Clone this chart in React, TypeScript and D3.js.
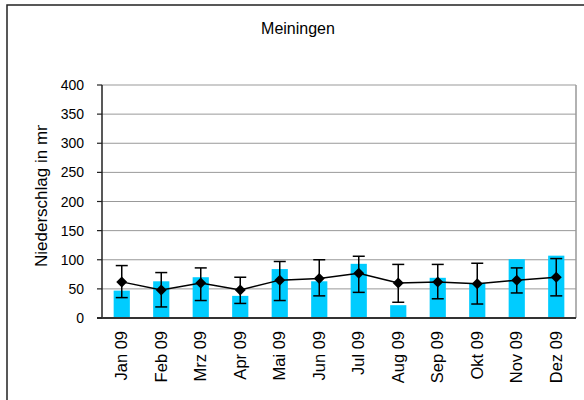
import React from "react";
import * as d3 from "d3";

const categories = ["Jan 09","Feb 09","Mrz 09","Apr 09","Mai 09","Jun 09","Jul 09","Aug 09","Sep 09","Okt 09","Nov 09","Dez 09"];
const barValues = [47, 63, 70, 38, 84, 63, 93, 22, 69, 60, 101, 107];
const meanValues = [62, 48, 60, 48, 65, 68, 77, 60, 62, 59, 65, 70];
const errLow = [35, 19, 30, 25, 30, 38, 44, 27, 33, 24, 43, 38];
const errHigh = [90, 78, 86, 70, 97, 100, 106, 92, 92, 94, 86, 102];
const yTicks = [0, 50, 100, 150, 200, 250, 300, 350, 400];
const title = "Meiningen";
const yTitle = "Niederschlag in mm";

export default function App() {
  const W = 584, H = 400;
  const left = 102, right = 576, top = 85, bottom = 318;
  const x = d3.scaleBand().domain(categories).range([left, right]).paddingInner(0).paddingOuter(0);
  const y = d3.scaleLinear().domain([0, 400]).range([bottom, top]);
  const bw = x.bandwidth() * 0.41;
  const cx = (c: string) => (x(c) as number) + x.bandwidth() / 2;
  const line = d3.line<number>().x((_, i) => cx(categories[i])).y(d => y(d));
  const font = "Liberation Sans, Arial, sans-serif";
  return (
    <svg width={W} height={H} style={{ position: "absolute", left: 0, top: 0, display: "block" }} fontFamily={font}>
      <defs>
        <clipPath id="ytclip"><rect x={0} y={125} width={100} height={260} /></clipPath>
      </defs>
      <rect x={0} y={0} width={W} height={H} fill="#fff" />
      <rect x={7} y={5} width={W + 20} height={H + 20} fill="none" stroke="#222" strokeWidth={1.5} />
      <text x={298} y={34} textAnchor="middle" fontSize={16} fill="#000">{title}</text>
      {yTicks.filter(t => t > 0).map(t => (
        <line key={t} x1={left} x2={right} y1={y(t)} y2={y(t)} stroke="#999" strokeWidth={1} />
      ))}
      <line x1={right} x2={right} y1={top} y2={bottom} stroke="#999" strokeWidth={1.5} />
      {categories.map((c, i) => (
        <rect key={c} x={cx(c) - bw / 2} width={bw} y={y(barValues[i])} height={bottom - y(barValues[i])} fill="#00CCFF" />
      ))}
      <line x1={left} x2={left} y1={top} y2={bottom} stroke="#222" strokeWidth={1.5} />
      <line x1={97} x2={right} y1={bottom} y2={bottom} stroke="#333" strokeWidth={2} />
      {yTicks.map(t => (
        <g key={t}>
          <line x1={97} x2={left} y1={y(t)} y2={y(t)} stroke="#222" strokeWidth={1.2} />
          <text x={84} y={y(t)} dy="0.36em" textAnchor="end" fontSize={14} fill="#000">{t}</text>
        </g>
      ))}
      {categories.map((c, i) => (
        <g key={c} stroke="#000" strokeWidth={1.5}>
          <line x1={cx(c)} x2={cx(c)} y1={y(errLow[i])} y2={y(errHigh[i])} />
          <line x1={cx(c) - 6} x2={cx(c) + 6} y1={y(errLow[i])} y2={y(errLow[i])} />
          <line x1={cx(c) - 6} x2={cx(c) + 6} y1={y(errHigh[i])} y2={y(errHigh[i])} />
        </g>
      ))}
      <path d={line(meanValues) || ""} fill="none" stroke="#000" strokeWidth={1.5} />
      {meanValues.map((v, i) => {
        const px = cx(categories[i]), py = y(v), r = 5.5;
        return <path key={i} d={`M${px},${py - r}L${px + r},${py}L${px},${py + r}L${px - r},${py}Z`} fill="#000" />;
      })}
      {categories.map(c => (
        <text key={c} transform={`translate(${cx(c) + 5.5},331) rotate(-90)`} textAnchor="end" fontSize={16.5} fill="#000">{c}</text>
      ))}
      <g clipPath="url(#ytclip)">
        <text transform={`translate(47,267) rotate(-90)`} textAnchor="start" fontSize={17} fill="#000">{yTitle}</text>
      </g>
    </svg>
  );
}
